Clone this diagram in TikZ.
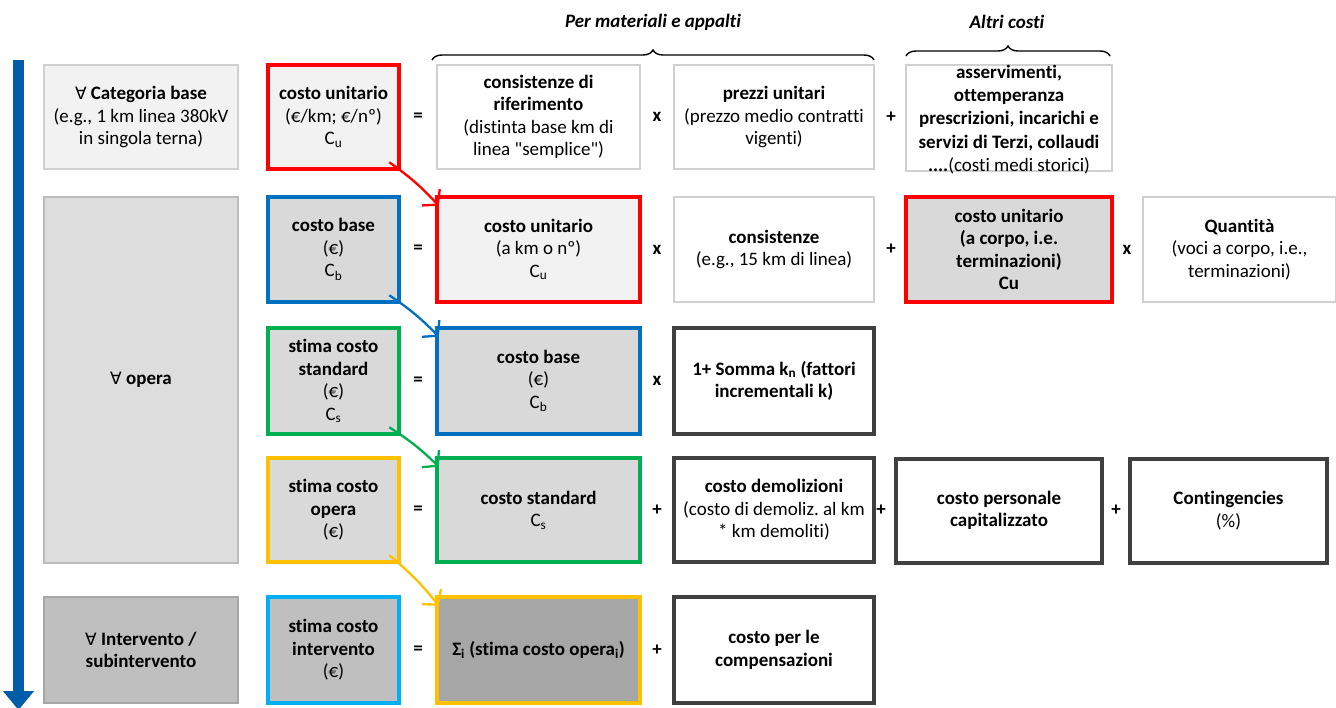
\documentclass[tikz,border=0pt]{standalone}
\usepackage{fontspec}
\setmainfont{Carlito}[Ligatures={TeXOff,CommonOff}]
\newfontfamily\symf{DejaVu Sans}
\usetikzlibrary{arrows.meta,decorations.pathreplacing}
\definecolor{cred}{HTML}{FF0000}
\definecolor{cblue}{HTML}{0070C0}
\definecolor{cgreen}{HTML}{00B050}
\definecolor{cyellow}{HTML}{FFC000}
\definecolor{ccyan}{HTML}{00B0F0}
\definecolor{cdark}{HTML}{404040}
\definecolor{cthin}{HTML}{D0D0D0}
\definecolor{fone}{HTML}{F2F2F2}
\definecolor{ftwo}{HTML}{D9D9D9}
\definecolor{fopera}{HTML}{DDDDDD}
\definecolor{fthree}{HTML}{BFBFBF}
\definecolor{ffour}{HTML}{A6A6A6}
\definecolor{arrowblue}{HTML}{005DA8}
\newcommand{\fa}{{\symf\fontsize{17}{22.5}\selectfont ∀}}
\frenchspacing
\begin{document}
\begin{tikzpicture}[x=1pt,y=-1pt,
  box/.style={align=center, inner sep=0pt, font=\fontsize{19}{22.5}\selectfont, text=black},
  thinbox/.style={box, draw=cthin, line width=1.5pt, fill=white},
  catbox/.style={box, draw=cthin, line width=1.5pt},
  colbox/.style={box, draw=#1, line width=4.5pt},
  darkbox/.style={box, draw=cdark, line width=4pt, fill=white},
  op/.style={font=\fontsize{19}{22.5}\selectfont\bfseries, inner sep=0pt},
  cur/.style={line width=2.3pt, -{Straight Barb[length=10pt,width=24pt]}},
  hdr/.style={font=\fontsize{19}{22.5}\selectfont\bfseries\itshape, inner sep=0pt},
  brc/.style={decorate, decoration={brace, amplitude=10pt}, line width=1.4pt}
]
\useasboundingbox (0,0) rectangle (1336,708);

% vertical arrow
\coordinate (atop) at (18.5,60);
\coordinate (abot) at (18.5,710);
\draw[arrowblue, line width=11pt, -{Triangle[length=19pt,width=30pt]}] (atop) -- (abot);

% headers and braces
\coordinate (b1a) at (432,60);
\coordinate (b1b) at (874,60);
\coordinate (b2a) at (906,56);
\coordinate (b2b) at (1110,56);
\draw[brc] (b1a) -- (b1b);
\draw[brc] (b2a) -- (b2b);
\node[hdr] (h1) at (653,22) {Per materiali e appalti};
\node[hdr] (h2) at (1007,22) {Altri costi};

% column 1
\node[catbox, fill=fone, minimum width=194, minimum height=104] (k1) at (141,117)
  {\fa\ \textbf{Categoria base}\\(e.g., 1 km linea 380kV\\in singola terna)};
\node[catbox, fill=fopera, draw=cthin!90!black, minimum width=194, minimum height=366] (k2) at (141,380)
  {\fa\ \textbf{opera}};
\node[catbox, fill=fthree, draw=cthin!80!black, minimum width=194, minimum height=106] (k3) at (141,650)
  {\fa\ \textbf{Intervento /}\\\textbf{subintervento}};

% row 1
\node[colbox=cred, fill=fone, minimum width=131, minimum height=104] (a1) at (333.5,117)
  {\textbf{costo unitario}\\(€/km; €/nº)\\C\textsubscript{u}};
\node[op] (e1) at (418,117) {=};
\node[thinbox, minimum width=203, minimum height=104] (b1) at (538.5,117)
  {\textbf{consistenze di}\\\textbf{riferimento}\\(distinta base km di\\linea "semplice")};
\node[op] (m1) at (657,117) {x};
\node[thinbox, minimum width=200, minimum height=104] (c1) at (774,117)
  {\textbf{prezzi unitari}\\(prezzo medio contratti\\vigenti)};
\node[op] (p1) at (891,117) {+};
\node[thinbox, minimum width=206, minimum height=106] (d1) at (1009,118) {};
\node[box, font=\fontsize{19}{23.2}\selectfont] (d1t) at (1009,119.5)
  {\textbf{asservimenti,}\\\textbf{ottemperanza}\\\textbf{prescrizioni, incarichi e}\\\textbf{servizi di Terzi, collaudi}\\\textbf{....}(costi medi storici)};

% row 2
\node[colbox=cblue, fill=ftwo, minimum width=131, minimum height=105] (a2) at (333.5,249.5)
  {\textbf{costo base}\\(€)\\C\textsubscript{b}};
\node[op] (e2) at (418,249.5) {=};
\node[colbox=cred, fill=fone, minimum width=203, minimum height=105] (b2) at (538.5,249.5)
  {\textbf{costo unitario}\\(a km o nº)\\C\textsubscript{u}};
\node[op] (m2) at (657,249.5) {x};
\node[thinbox, minimum width=200, minimum height=105] (c2) at (774,249.5)
  {\textbf{consistenze}\\(e.g., 15 km di linea)};
\node[op] (p2) at (891,249.5) {+};
\node[colbox=cred, fill=ftwo, minimum width=206, minimum height=105] (d2) at (1009,249.5)
  {\textbf{costo unitario}\\\textbf{(a corpo, i.e.}\\\textbf{terminazioni)}\\\textbf{Cu}};
\node[op] (m2b) at (1127,249.5) {x};
\node[thinbox, minimum width=193, minimum height=105] (q2) at (1239.5,249.5)
  {\textbf{Quantità}\\(voci a corpo, i.e.,\\terminazioni)};

% row 3
\node[colbox=cgreen, fill=ftwo, minimum width=131, minimum height=106] (a3) at (333.5,381)
  {\textbf{stima costo}\\\textbf{standard}\\(€)\\C\textsubscript{s}};
\node[op] (e3) at (418,381) {=};
\node[colbox=cblue, fill=ftwo, minimum width=203, minimum height=106] (b3) at (538.5,381)
  {\textbf{costo base}\\(€)\\C\textsubscript{b}};
\node[op] (m3) at (657,381) {x};
\node[darkbox, minimum width=200, minimum height=106] (c3) at (774,381)
  {\textbf{1+ Somma k\textsubscript{n} (fattori}\\\textbf{incrementali k)}};

% row 4
\node[colbox=cyellow, fill=ftwo, minimum width=131, minimum height=104] (a4) at (333.5,510)
  {\textbf{stima costo}\\\textbf{opera}\\(€)};
\node[op] (e4) at (418,510) {=};
\node[colbox=cgreen, fill=ftwo, minimum width=203, minimum height=104] (b4) at (538.5,510)
  {\textbf{costo standard}\\C\textsubscript{s}};
\node[op] (p4) at (657,510) {+};
\node[darkbox, minimum width=200, minimum height=104] (c4) at (774,510)
  {\textbf{costo demolizioni}\\(costo di demoliz. al km\\* km demoliti)};
\node[op] (p4b) at (881,510) {+};
\node[darkbox, minimum width=206, minimum height=104] (d4) at (999,510.5)
  {\textbf{costo personale}\\\textbf{capitalizzato}};
\node[op] (p4c) at (1116,510) {+};
\node[darkbox, minimum width=197, minimum height=104] (f4) at (1228.5,510.5)
  {\textbf{Contingencies}\\(\%)};

% row 5
\node[colbox=ccyan, fill=fthree, minimum width=131, minimum height=106] (a5) at (333.5,650)
  {\textbf{stima costo}\\\textbf{intervento}\\(€)};
\node[op] (e5) at (418,650) {=};
\node[colbox=cyellow, fill=ffour, minimum width=203, minimum height=106] (b5) at (538.5,650)
  {\textbf{Σ\textsubscript{i} (stima costo opera\textsubscript{i})}};
\node[op] (p5) at (657,650) {+};
\node[darkbox, minimum width=200, minimum height=106] (c5) at (774,650)
  {\textbf{costo per le}\\\textbf{compensazioni}};

% curved connectors
\draw[cur, cred] ([shift={(-12,-9)}]a1.south east) to[bend left=6] ([shift={(4,11)}]b2.north west);
\draw[cur, cblue] ([shift={(-12,-9)}]a2.south east) to[bend left=6] ([shift={(4,11)}]b3.north west);
\draw[cur, cgreen] ([shift={(-12,-9)}]a3.south east) to[bend left=6] ([shift={(4,11)}]b4.north west);
\draw[cur, cyellow] ([shift={(-12,-9)}]a4.south east) to[bend left=6] ([shift={(4,11)}]b5.north west);
\end{tikzpicture}
\end{document}
